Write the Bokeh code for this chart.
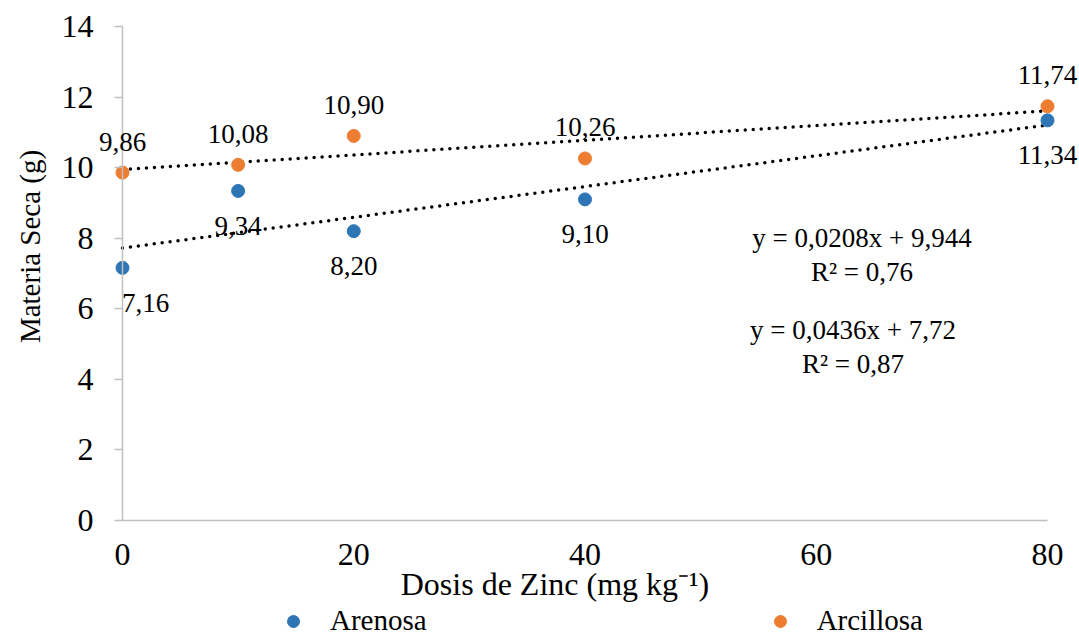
import numpy as np
from bokeh.plotting import figure
from bokeh.models import Range1d, Legend, LegendItem, Label, ColumnDataSource, LabelSet, FixedTicker
from bokeh.embed import file_html
from bokeh.resources import INLINE

dosis = [0, 10, 20, 40, 80]
arenosa = [7.16, 9.34, 8.20, 9.10, 11.34]
arcillosa = [9.86, 10.08, 10.90, 10.26, 11.74]
y_ticks = [0, 2, 4, 6, 8, 10, 12, 14]
x_ticks = [0, 20, 40, 60, 80]

BLUE = "#2E75B6"
ORANGE = "#ED7D31"
FONT = "Liberation Serif"
W, H = 1079, 637
# plot-area pixel box (axes are fixed inside a frame that fills the canvas)
PL, PR, PT, PB = 122, 1047, 26, 520
XMIN, XMAX, YMIN, YMAX = 0, 80, 0, 14
kx = (PR - PL) / (XMAX - XMIN)
ky = (PB - PT) / (YMAX - YMIN)

def dx(px):
    return XMIN + (px - PL) / kx

def dy(py):
    return YMIN + (PB - py) / ky

def fmt(v):
    return f"{v:.2f}".replace(".", ",")

p = figure(width=W, height=H, output_backend="svg", toolbar_location=None,
           x_range=Range1d(dx(0), dx(W)), y_range=Range1d(dy(H), dy(0)),
           min_border=0, min_border_left=0, min_border_right=0,
           min_border_top=0, min_border_bottom=0)
p.outline_line_color = None
p.xgrid.visible = False
p.ygrid.visible = False

for ax in (p.xaxis[0], p.yaxis[0]):
    ax.fixed_location = 0
    ax.axis_line_color = "#BFBFBF"
    ax.axis_line_width = 1.5
    ax.major_tick_line_color = "#BFBFBF"
    ax.major_tick_line_width = 1.5
    ax.minor_tick_line_color = None
    ax.major_label_text_font = FONT
    ax.major_label_text_font_size = "32px"
    ax.major_label_text_color = "black"

p.xaxis.ticker = FixedTicker(ticks=x_ticks)
p.yaxis.ticker = FixedTicker(ticks=y_ticks)
p.xaxis.bounds = (XMIN, XMAX)
p.yaxis.bounds = (YMIN, YMAX)
p.xaxis.major_tick_out = 0
p.xaxis.major_tick_in = 0
p.xaxis.major_label_standoff = 23
p.yaxis.major_tick_out = 8
p.yaxis.major_tick_in = 0
p.yaxis.major_label_standoff = 21

# axis titles
p.add_layout(Label(x=dx(554.5), y=dy(583), text="Dosis de Zinc (mg kg⁻¹)",
                   text_align="center", text_baseline="middle",
                   text_font=FONT, text_font_size="32px", text_color="black"))
p.add_layout(Label(x=dx(29), y=dy(246), text="Materia Seca (g)", angle=np.pi / 2,
                   text_align="center", text_baseline="middle",
                   text_font=FONT, text_font_size="29px", text_color="black"))

# trend lines
xs = np.array([XMIN, XMAX])
for ys in (arenosa, arcillosa):
    m, b = np.polyfit(dosis, ys, 1)
    p.line(xs, m * xs + b, line_color="black", line_width=3.5, line_dash="0 8", line_cap="round")

r1 = p.scatter(dosis, arenosa, size=13, marker="circle", fill_color=BLUE, line_color=BLUE, line_width=1)
r2 = p.scatter(dosis, arcillosa, size=13, marker="circle", fill_color=ORANGE, line_color=ORANGE, line_width=1)

# data labels
aren_xoff = [23, 0, 0, 0, 0]
src_a = ColumnDataSource(dict(x=dosis, y=arenosa, t=[fmt(v) for v in arenosa], xo=aren_xoff))
src_c = ColumnDataSource(dict(x=dosis, y=arcillosa, t=[fmt(v) for v in arcillosa]))
p.add_layout(LabelSet(x="x", y="y", text="t", source=src_a, x_offset="xo", y_offset=-35,
                      text_align="center", text_baseline="middle", text_font=FONT,
                      text_font_size="27px", text_color="black"))
p.add_layout(LabelSet(x="x", y="y", text="t", source=src_c, y_offset=31,
                      text_align="center", text_baseline="middle", text_font=FONT,
                      text_font_size="27px", text_color="black"))

# trend-line equations
eqs = [
    (861.5, 237, "y = 0,0208x + 9,944"),
    (861.5, 271, "R² = 0,76"),
    (852.5, 329, "y = 0,0436x + 7,72"),
    (852.5, 363, "R² = 0,87"),
]
for px, py, t in eqs:
    p.add_layout(Label(x=dx(px), y=dy(py), text=t, text_align="center", text_baseline="middle",
                       text_font=FONT, text_font_size="27px", text_color="black"))

legend = Legend(items=[LegendItem(label="Arenosa", renderers=[r1]),
                       LegendItem(label="Arcillosa", renderers=[r2])],
                orientation="horizontal", location=(278, 0),
                label_text_font=FONT, label_text_font_size="29px", label_text_color="black",
                glyph_width=30, glyph_height=30, label_standoff=22, spacing=338,
                padding=0, margin=0, border_line_color=None, background_fill_alpha=0)
p.add_layout(legend, "center")

open("out.html", "w").write(file_html(p, INLINE))
